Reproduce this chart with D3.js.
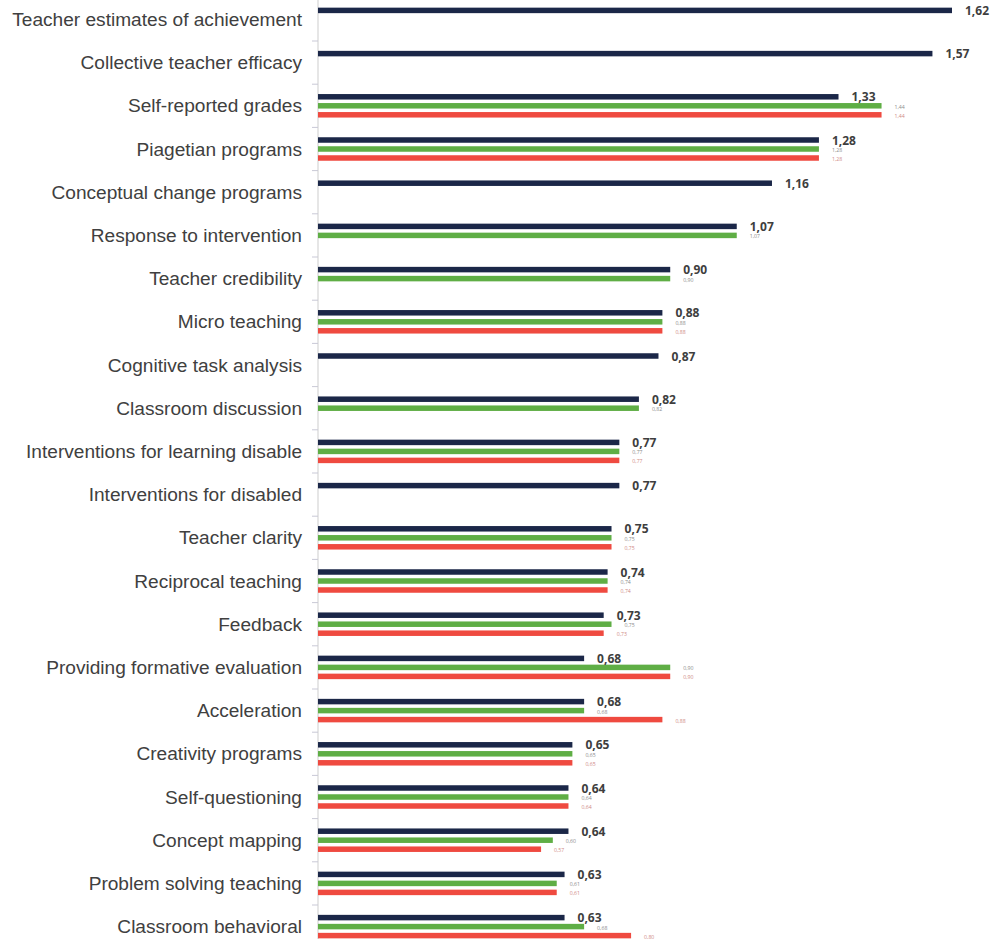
<!DOCTYPE html>
<html>
<head>
<meta charset="utf-8">
<script src="https://cdn.jsdelivr.net/npm/d3@7"></script>
<style>
  html, body { margin: 0; padding: 0; background: #ffffff; }
  svg { display: block; }
</style>
</head>
<body>
<svg id="chart" width="998" height="939"></svg>
<script>
// Effect sizes per influence, three series (null = no value for that series)
const categories = [
  "Teacher estimates of achievement",
  "Collective teacher efficacy",
  "Self-reported grades",
  "Piagetian programs",
  "Conceptual change programs",
  "Response to intervention",
  "Teacher credibility",
  "Micro teaching",
  "Cognitive task analysis",
  "Classroom discussion",
  "Interventions for learning disable",
  "Interventions for disabled",
  "Teacher clarity",
  "Reciprocal teaching",
  "Feedback",
  "Providing formative evaluation",
  "Acceleration",
  "Creativity programs",
  "Self-questioning",
  "Concept mapping",
  "Problem solving teaching",
  "Classroom behavioral"
];
const navyValues  = [1.62, 1.57, 1.33, 1.28, 1.16, 1.07, 0.90, 0.88, 0.87, 0.82, 0.77, 0.77, 0.75, 0.74, 0.73, 0.68, 0.68, 0.65, 0.64, 0.64, 0.63, 0.63];
const greenValues = [null, null, 1.44, 1.28, null, 1.07, 0.90, 0.88, null, 0.82, 0.77, null, 0.75, 0.74, 0.75, 0.90, 0.68, 0.65, 0.64, 0.60, 0.61, 0.68];
const redValues   = [null, null, 1.44, 1.28, null, null, null, 0.88, null, null, 0.77, null, 0.75, 0.74, 0.73, 0.90, 0.88, 0.65, 0.64, 0.57, 0.61, 0.80];

const seriesKeys = ["navy", "green", "red"];
const seriesValues = { navy: navyValues, green: greenValues, red: redValues };
const seriesColor = { navy: "#1b2748", green: "#5fae45", red: "#ef4a40" };
const labelColor = { navy: "#3e3e3e", green: "#8c8c8c", red: "#cf8a86" };

const svg = d3.select("#chart");

const x = d3.scaleLinear().domain([0, 1.62]).range([318, 952]);
const y = d3.scaleBand().domain(categories).range([-2.2, 948.2]).padding(0);
const slot = d3.scalePoint().domain(seriesKeys).range([-9, 9]);

const fmt = v => d3.format(".2f")(v).replace(".", ",");

// Axis line with ticks at the band boundaries
const axisG = svg.append("g");
axisG.append("line")
  .attr("x1", x(0)).attr("x2", x(0))
  .attr("y1", 0).attr("y2", 939)
  .attr("stroke", "#d6d6d6").attr("stroke-width", 1.2);
axisG.selectAll("line.tick")
  .data(categories)
  .join("line")
  .attr("class", "tick")
  .attr("x1", x(0) - 6).attr("x2", x(0))
  .attr("y1", d => y(d) + y.step())
  .attr("y2", d => y(d) + y.step())
  .attr("stroke", "#c9c9d6").attr("stroke-width", 1);

// Category labels
svg.append("g").selectAll("text")
  .data(categories)
  .join("text")
  .attr("x", 302)
  .attr("y", d => y(d) + y.bandwidth() / 2)
  .attr("text-anchor", "end")
  .attr("dominant-baseline", "central")
  .attr("font-family", "Liberation Sans, Arial, sans-serif")
  .attr("font-size", 19.1)
  .attr("fill", "#404040")
  .text(d => d);

// Flatten into bar records
const bars = [];
categories.forEach((c, i) => {
  seriesKeys.forEach(k => {
    const v = seriesValues[k][i];
    if (v != null) bars.push({ cat: c, key: k, value: v });
  });
});

const barH = 5.5;
const cy = d => y(d.cat) + y.bandwidth() / 2 + slot(d.key);

svg.append("g").selectAll("rect")
  .data(bars)
  .join("rect")
  .attr("x", x(0))
  .attr("y", d => cy(d) - barH / 2)
  .attr("width", d => x(d.value) - x(0))
  .attr("height", barH)
  .attr("fill", d => seriesColor[d.key]);

// Value labels: large for the main series, tiny for the others
svg.append("g").selectAll("text")
  .data(bars)
  .join("text")
  .attr("x", d => x(d.value) + 13)
  .attr("y", d => d.key === "navy" ? cy(d) + 4.5 : cy(d) + 1)
  .attr("dominant-baseline", d => d.key === "navy" ? "auto" : "central")
  .attr("font-family", "Open Sans, Liberation Sans, sans-serif")
  .attr("font-size", d => d.key === "navy" ? 12 : 5.2)
  .attr("font-weight", d => d.key === "navy" ? 700 : 400)
  .attr("fill", d => labelColor[d.key])
  .text(d => fmt(d.value));
</script>
</body>
</html>
